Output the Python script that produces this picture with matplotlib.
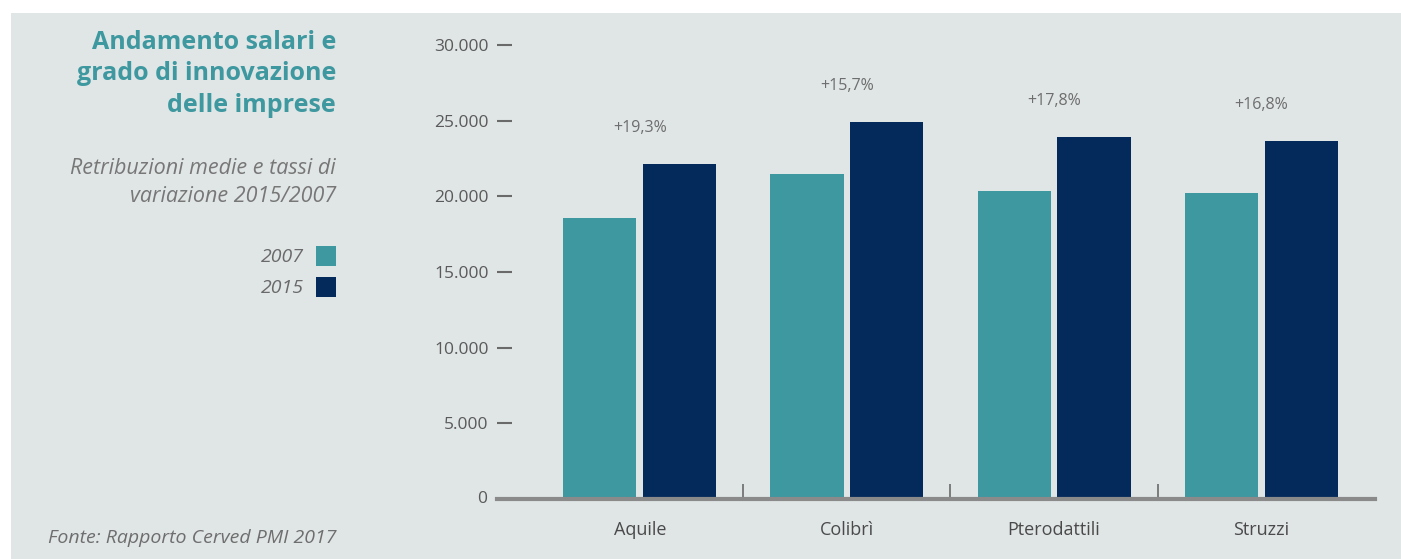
import numpy as np
import matplotlib.pyplot as plt
from matplotlib.patches import Rectangle

categories = ["Aquile", "Colibrì", "Pterodattili", "Struzzi"]
years = ["2007", "2015"]
salari_2007 = [18570, 21480, 20350, 20220]
salari_2015 = [22140, 24910, 23920, 23650]
variazioni = ["+19,3%", "+15,7%", "+17,8%", "+16,8%"]
yticks = [0, 5000, 10000, 15000, 20000, 25000, 30000]
ytick_labels = ["0", "5.000", "10.000", "15.000", "20.000", "25.000", "30.000"]

teal = "#3e98a0"
navy = "#032a5a"
panel = "#e0e5e5"
grey_text = "#6e6e6e"
font = "Open Sans"

W, H = 1401, 559
fig = plt.figure(figsize=(W / 100, H / 100), dpi=100)
fig.patch.set_facecolor("white")
fig.patches.append(Rectangle((11 / W, 0), 1 - 11 / W, 1 - 13 / H,
                             transform=fig.transFigure, facecolor=panel,
                             edgecolor="none", zorder=-5))

ax = fig.add_axes([497 / W, 60 / H, (1375 - 497) / W, (499 - 45) / H])
ax.set_facecolor("none")

x = np.arange(len(categories))
width = 0.353
off = 0.193
ax.bar(x - off, salari_2007, width, color=teal, zorder=2)
ax.bar(x + off, salari_2015, width, color=navy, zorder=2)

for xi, val, lab in zip(x, salari_2015, variazioni):
    ax.annotate(lab, xy=(xi, val), xytext=(0, 26), textcoords="offset points",
                ha="center", va="center", fontsize=11.5, color=grey_text,
                family=font)

ax.set_xlim(-0.69, 3.55)
ax.set_ylim(0, 30000)

for s in ["left", "right", "top"]:
    ax.spines[s].set_visible(False)
ax.spines["bottom"].set_color("#8a8a8a")
ax.spines["bottom"].set_linewidth(3)
ax.spines["bottom"].set_zorder(3)

ax.set_yticks(yticks[1:])
ax.set_yticklabels(ytick_labels[1:], family=font, fontsize=12.5, color="#5a5a5a")
ax.tick_params(axis="y", direction="in", length=11, width=1.5, color="#6a6a6a", pad=6)
ax.text(-0.69, 0, "0  ", transform=ax.transData, ha="right", va="center",
        family=font, fontsize=12.5, color="#5a5a5a")

ax.set_xticks(x)
ax.set_xticklabels(categories, family=font, fontsize=13, color="#4a4a4a")
ax.tick_params(axis="x", which="major", length=0, pad=16)
ax.set_xticks(x[:-1] + 0.5, minor=True)
ax.tick_params(axis="x", which="minor", direction="in", length=11, width=1.2, color="#6a6a6a")

# left side texts
fig.text(336 / W, 1 - 74 / H, "Andamento salari e\ngrado di innovazione\ndelle imprese",
         ha="right", va="center", multialignment="right", family=font, fontsize=18,
         fontweight="bold", color=teal, linespacing=1.32)
fig.text(336 / W, 1 - 182.5 / H, "Retribuzioni medie e tassi di\nvariazione 2015/2007",
         ha="right", va="center", multialignment="right", family=font, fontsize=15.5,
         style="italic", color="#777777", linespacing=1.45)

for i, (yr, col) in enumerate(zip(years, [teal, navy])):
    yc = 256 + i * 31
    fig.patches.append(Rectangle((316 / W, 1 - (yc + 10) / H), 20 / W, 20 / H,
                                 transform=fig.transFigure, facecolor=col,
                                 edgecolor="none", zorder=1))
    fig.text(304 / W, 1 - (yc + 1) / H, yr, ha="right", va="center", family=font,
             fontsize=14, style="italic", color="#6a6a6a")

fig.text(48 / W, 1 - 538 / H, "Fonte: Rapporto Cerved PMI 2017", ha="left", va="center",
         family=font, fontsize=14, style="italic", color="#6e6e6e")

fig.savefig("out.png", dpi=100, facecolor=fig.get_facecolor())
